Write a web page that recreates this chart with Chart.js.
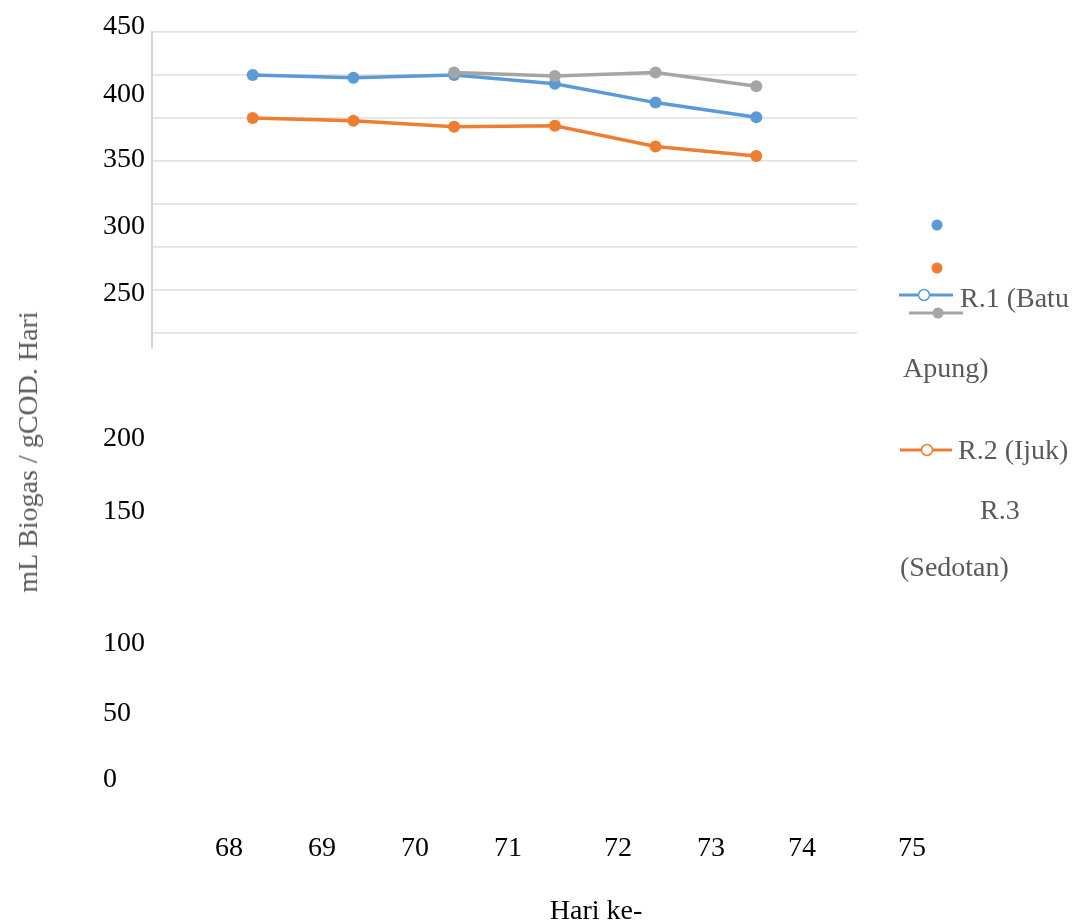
<!DOCTYPE html>
<html>
<head>
<meta charset="utf-8">
<script src="https://cdn.jsdelivr.net/npm/chart.js@4"></script>
<style>
  body { margin: 0; background: #fff; }
  #wrap { position: relative; width: 1081px; height: 924px; overflow: hidden; }
  #wrap canvas { position: absolute; left: 0; top: 0; }
  .lbl { position: absolute; font-family: 'Liberation Serif', 'Times New Roman', serif; font-size: 28px; line-height: 28px; white-space: nowrap; color: #000; }
  .grey { color: #595959; }
</style>
</head>
<body>
<div id="wrap">
  <canvas id="chart" width="1081" height="924"></canvas>
</div>
<script>
// data
const days = [68, 69, 70, 71, 72, 73];
const r1 = [400, 397, 400, 390, 368, 351];   // R.1 (Batu Apung)
const r2 = [350, 347, 340, 341, 317, 306];   // R.2 (Ijuk)
const r3 = [null, null, 403, 399, 403, 387]; // R.3 (Sedotan)

// tick labels as printed (the source put them in odd places)
const yTickLabels = ['450', '400', '350', '300', '250', '200', '150', '100', '50', '0'];
const xTickLabels = ['68', '69', '70', '71', '72', '73', '74', '75'];

// where the loose labels sit on the page
const yTickTop = [25, 93, 158, 225, 292, 437, 510, 642, 712, 778];
const xTickCenter = [229, 322, 415, 508, 618, 711, 802, 912];
const xTickY = 847;

const BLUE = '#5b9bd5', ORANGE = '#ed7d31', GREY = '#a5a5a5';

function toPoints(vals) {
    return days.map((d, i) => ({ x: d, y: vals[i] }));
}

// legend marks drawn on canvas next to the html text
const legendMarks = {
    id: 'legendMarks',
    afterDraw(c) {
        const ctx = c.ctx;
        ctx.save();
        function dot(x, y, col, open) {
            ctx.beginPath();
            ctx.arc(x, y, 5.5, 0, Math.PI * 2);
            ctx.fillStyle = open ? '#fff' : col;
            ctx.fill();
            if (open) { ctx.lineWidth = 1.5; ctx.strokeStyle = col; ctx.stroke(); }
        }
        function line(x1, x2, y, col) {
            ctx.beginPath();
            ctx.moveTo(x1, y);
            ctx.lineTo(x2, y);
            ctx.lineWidth = 3;
            ctx.strokeStyle = col;
            ctx.stroke();
        }
        dot(937, 225, BLUE, false);
        dot(937, 268, ORANGE, false);
        line(899, 953, 295, BLUE);
        dot(924, 295, BLUE, true);
        line(909, 963, 313, GREY);
        dot(938, 313, GREY, false);
        line(900, 952, 450, ORANGE);
        dot(927, 450, ORANGE, true);
        ctx.restore();
    }
};

const chart = new Chart(document.getElementById('chart'), {
    type: 'line',
    data: {
        datasets: [
            { label: 'R.1 (Batu Apung)', data: toPoints(r1), borderColor: BLUE, backgroundColor: BLUE, order: 3 },
            { label: 'R.2 (Ijuk)', data: toPoints(r2), borderColor: ORANGE, backgroundColor: ORANGE, order: 2 },
            { label: 'R.3 (Sedotan)', data: toPoints(r3), borderColor: GREY, backgroundColor: GREY, order: 1 }
        ]
    },
    options: {
        responsive: false,
        animation: false,
        layout: { autoPadding: false, padding: { left: 152, top: 32, right: 224, bottom: 576 } },
        elements: {
            line: { borderWidth: 3.5, tension: 0 },
            point: { radius: 6, borderWidth: 0 }
        },
        scales: {
            x: { type: 'linear', min: 67, max: 74, display: false },
            y: {
                min: 83, max: 450,
                ticks: { display: false, stepSize: 50 },
                grid: {
                    drawTicks: false,
                    lineWidth: 1.8,
                    color: ctx => (ctx.tick && ctx.tick.value % 50 === 0) ? '#e3e3e3' : 'rgba(0,0,0,0)'
                },
                border: { display: true, color: '#d6d6d6', width: 2 }
            }
        },
        plugins: { legend: { display: false }, tooltip: { enabled: false } }
    },
    plugins: [legendMarks]
});

// loose text around the plot
const wrap = document.getElementById('wrap');
function addText(txt, left, top, cls, extra) {
    const el = document.createElement('div');
    el.className = 'lbl' + (cls ? ' ' + cls : '');
    el.textContent = txt;
    el.style.left = left + 'px';
    el.style.top = top + 'px';
    if (extra) Object.assign(el.style, extra);
    wrap.appendChild(el);
    return el;
}

yTickLabels.forEach((t, i) => addText(t, 103, yTickTop[i] - 14));
xTickLabels.forEach((t, i) => addText(t, xTickCenter[i], xTickY - 14, '', { transform: 'translateX(-50%)' }));

addText('Hari ke-', 596, 896, '', { transform: 'translateX(-50%)' });
addText('mL Biogas / gCOD. Hari', 28, 452 - 14, 'grey', { transform: 'translateX(-50%) rotate(-90deg)', transformOrigin: '50% 50%' });

addText('R.1 (Batu', 960, 298 - 14, 'grey');
addText('Apung)', 903, 368 - 14, 'grey');
addText('R.2 (Ijuk)', 958, 450 - 14, 'grey');
addText('R.3', 980, 510 - 14, 'grey');
addText('(Sedotan)', 900, 567 - 14, 'grey');
</script>
</body>
</html>
